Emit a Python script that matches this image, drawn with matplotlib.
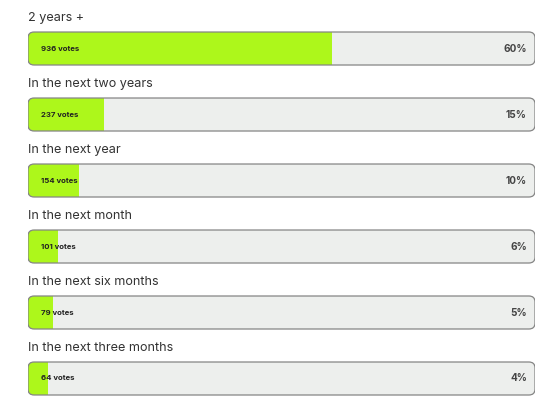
import matplotlib.pyplot as plt
from matplotlib.patches import FancyBboxPatch, Rectangle

# poll results
categories = ["2 years +", "In the next two years", "In the next year",
              "In the next month", "In the next six months", "In the next three months"]
votes = [936, 237, 154, 101, 79, 64]
percents = [60, 15, 10, 6, 5, 4]

GREEN = "#adf71b"
TRACK = "#edefed"
EDGE = "#858585"
TEXT = "#333333"

fig = plt.figure(figsize=(5.5, 4.08), dpi=100)
# axes spans the bar track horizontally, full height vertically
ax = fig.add_axes([28 / 550, 0, 507 / 550, 1])
ax.set_xlim(0, 100)
ax.set_ylim(5.447, -0.735)
ax.axis("off")

h = 0.5
rs = 1.2               # corner radius in x units
asp = 0.0909 / rs      # so the y radius comes out at ~6px

for i, (cat, v, p) in enumerate(zip(categories, votes, percents)):
    track = FancyBboxPatch((0, i - h / 2), 100, h,
                           boxstyle=f"round,pad=0,rounding_size={rs}",
                           mutation_aspect=asp, facecolor=TRACK,
                           edgecolor="none", zorder=1)
    ax.add_patch(track)
    fill = Rectangle((0, i - h / 2), p, h, facecolor=GREEN,
                     edgecolor="none", zorder=2)
    ax.add_patch(fill)
    fill.set_clip_path(track)
    ax.add_patch(FancyBboxPatch((0, i - h / 2), 100, h,
                                boxstyle=f"round,pad=0,rounding_size={rs}",
                                mutation_aspect=asp, facecolor="none",
                                edgecolor=EDGE, linewidth=0.9, zorder=3))

    ax.text(0, i - 0.462, cat, ha="left", va="center", fontsize=9.1,
            color=TEXT, family="Inter", clip_on=False)
    ax.text(2.5, i, f"{v} votes", ha="left", va="center", fontsize=5.6,
            fontweight="bold", color="#222222", family="Inter", zorder=4)
    ax.text(98.4, i, f"{p}%", ha="right", va="center", fontsize=7.2,
            fontweight="bold", color="#444444", family="Inter", zorder=4)

fig.savefig("out.png", dpi=100, facecolor="white")
